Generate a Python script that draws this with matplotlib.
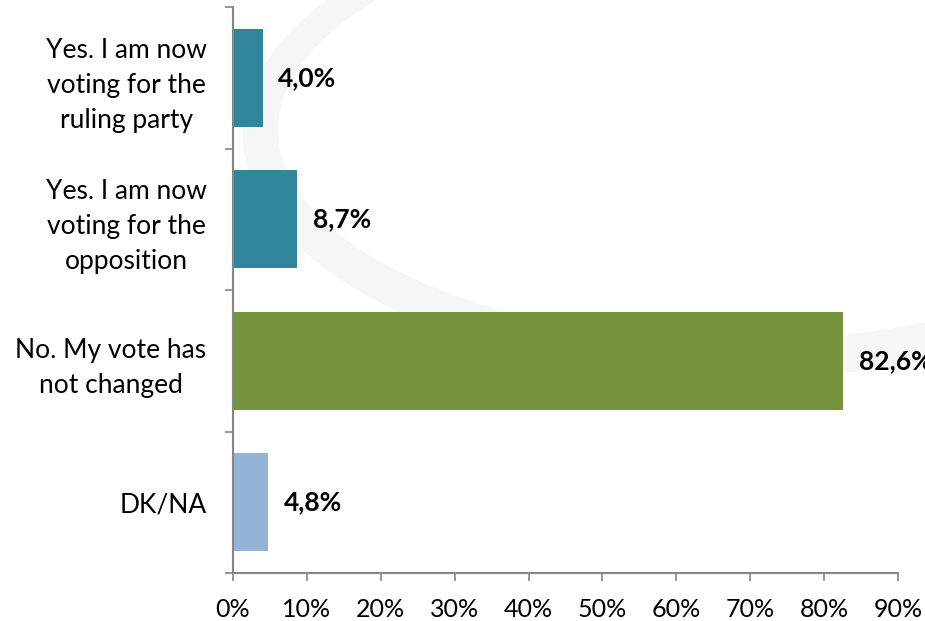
import matplotlib
matplotlib.use("Agg")
import matplotlib.pyplot as plt
from matplotlib.patches import Ellipse
from matplotlib.ticker import FixedLocator, PercentFormatter

categories = ["Yes. I am now\nvoting for the\nruling party",
              "Yes. I am now\nvoting for the\nopposition",
              "No. My vote has\nnot changed",
              "DK/NA"]
values = [4.0, 8.7, 82.6, 4.8]
value_labels = ["4,0%", "8,7%", "82,6%", "4,8%"]
colors = ["#31859C", "#31859C", "#77933C", "#95B3D7"]
x_ticks = [0, 10, 20, 30, 40, 50, 60, 70, 80, 90]

plt.rcParams['font.family'] = ['Lato', 'DejaVu Sans']

W, H = 925, 621
fig = plt.figure(figsize=(W / 100, H / 100), dpi=100)

# faint watermark ring in the background
bg = fig.add_axes([0, 0, 1, 1], zorder=0)
bg.set_xlim(0, W)
bg.set_ylim(H, 0)
bg.axis("off")
bg.add_patch(Ellipse((740, 135), 2 * 497, 2 * 243, facecolor="#f6f6f6", edgecolor="none"))
bg.add_patch(Ellipse((740, 130), 2 * 462, 2 * 210, facecolor="white", edgecolor="none"))

ax = fig.add_axes([233 / W, 1 - 573 / H, (898 - 233) / W, (573 - 7) / H], zorder=1)
ax.patch.set_alpha(0)

ypos = list(range(len(categories)))
ax.barh(ypos, values, height=0.69, color=colors, zorder=2)
ax.set_xlim(0, 90)
ax.set_ylim(len(categories) - 0.5, -0.5)

for y, v, lab in zip(ypos, values, value_labels):
    ax.annotate(lab, (v, y), xytext=(11, 0), textcoords="offset points",
                ha="left", va="center", fontsize=19, fontweight="bold",
                color="black", annotation_clip=False)

gray = "#868686"
for s in ["top", "right"]:
    ax.spines[s].set_visible(False)
for s in ["left", "bottom"]:
    ax.spines[s].set_color(gray)
    ax.spines[s].set_linewidth(1.5)

ax.xaxis.set_major_locator(FixedLocator(x_ticks))
ax.xaxis.set_major_formatter(PercentFormatter(decimals=0))
ax.tick_params(axis="x", direction="out", length=6, width=1.2, color=gray,
               labelsize=18, pad=12, labelcolor="black")

# y: boundary ticks (major) and category labels (minor, no tick)
ax.yaxis.set_major_locator(FixedLocator([-0.5 + i for i in range(len(categories) + 1)]))
ax.yaxis.set_major_formatter(plt.NullFormatter())
ax.tick_params(axis="y", which="major", direction="out", length=6, width=1.2, color=gray)
ax.set_yticks(ypos, minor=True)
ax.set_yticklabels(categories, minor=True, fontsize=19, multialignment="center",
                   linespacing=1.5)
ax.tick_params(axis="y", which="minor", length=0, pad=19, labelcolor="black")

fig.savefig("out.png", dpi=100)
